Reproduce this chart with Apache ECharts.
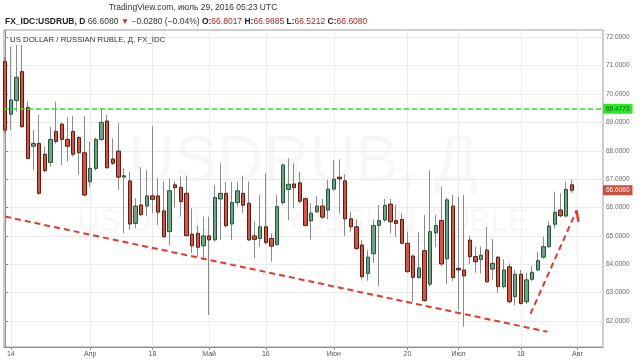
<!DOCTYPE html>
<html><head><meta charset="utf-8">
<script src="https://cdn.jsdelivr.net/npm/echarts@6/dist/echarts.min.js"></script>
<style>html,body{margin:0;padding:0;background:#fff}#c{width:640px;height:361px}</style>
</head><body><div id="c"></div>
<script>
// Daily USD/RUB candles, 2016-03-11 .. 2016-07-29 (index 0 = Mar 11)
const openP  = [71.14,69.29,69.77,70.79,69.53,68.16,68.26,67.88,67.59,68.68,68.94,68.40,68.68,68.47,67.93,66.91,67.38,68.40,69.05,67.71,
                67.99,67.07,66.94,65.44,66.09,66.05,66.41,66.41,65.88,65.15,66.80,66.71,66.50,65.06,65.09,64.65,65.00,64.86,66.30,66.50,
                65.42,66.17,66.50,66.15,65.00,64.91,65.32,64.91,64.70,66.17,66.64,66.83,66.87,66.31,65.53,65.85,66.05,65.91,66.65,67.07,
                66.94,65.60,65.32,64.68,63.68,64.37,65.37,65.56,66.12,65.54,65.58,64.74,64.29,63.53,64.48,63.30,65.11,65.54,64.19,66.05,
                63.86,63.80,64.85,64.27,64.17,64.50,63.83,64.25,63.21,63.91,62.86,63.65,62.68,63.47,63.80,64.25,64.62,65.41,65.91,65.70,
                66.8017];
const closeP = [68.73,69.79,70.59,68.85,67.73,68.26,66.50,67.30,68.40,68.33,68.40,68.16,67.88,67.93,66.44,67.38,68.40,69.00,67.40,67.56,
                67.07,67.12,65.42,66.05,65.75,66.41,66.29,65.84,64.97,66.59,66.70,66.21,65.01,64.65,64.60,65.00,64.86,66.35,66.50,65.36,
                66.18,66.59,66.08,64.86,64.88,65.32,64.77,64.64,66.03,67.50,66.82,66.70,66.22,65.37,65.80,66.05,65.66,66.65,67.00,67.01,
                65.60,65.32,64.56,63.56,64.25,65.36,65.54,66.08,65.50,65.44,64.74,63.74,63.54,63.87,62.72,65.15,65.37,64.01,66.27,63.53,
                63.80,63.59,64.27,64.09,64.32,63.38,64.03,63.21,63.80,62.68,63.65,62.62,63.45,63.72,64.13,64.62,65.35,65.83,65.71,66.636,
                66.6080];
const lowP   = [68.60,68.73,69.38,68.80,67.70,67.32,66.45,67.25,67.44,68.25,67.50,67.62,67.80,67.15,66.40,66.73,67.30,68.35,67.38,67.50,
                66.62,65.09,65.21,65.27,65.70,65.70,65.80,65.38,64.93,64.68,66.00,65.68,64.98,64.39,64.27,64.21,62.21,64.80,64.86,65.30,
                64.86,66.03,65.81,64.82,64.21,64.62,64.70,64.09,64.65,66.10,65.56,65.97,66.15,65.34,64.86,65.80,65.60,65.58,66.60,65.80,
                65.00,65.15,64.50,63.47,63.42,64.05,63.23,65.50,65.09,64.97,64.70,63.70,62.68,63.50,62.68,63.21,64.60,63.95,63.30,63.40,
                62.39,61.80,64.00,63.70,63.68,63.35,63.45,62.98,63.15,62.62,62.56,62.58,62.60,63.40,63.75,64.20,64.58,65.27,65.65,65.65,
                66.5212];
const highP  = [71.30,71.67,71.73,71.73,69.73,68.73,69.26,68.15,68.85,69.73,69.00,69.18,69.23,68.52,69.23,68.32,68.47,69.50,69.26,68.44,
                68.97,67.38,67.26,66.33,67.42,67.32,68.87,67.03,66.91,67.03,66.93,67.09,67.12,65.97,65.36,65.68,65.68,66.79,67.56,66.90,
                66.91,66.91,67.11,66.91,65.50,66.44,67.21,65.09,66.44,67.55,67.73,67.56,67.26,66.35,66.15,66.41,66.30,66.97,67.67,67.70,
                67.17,65.85,65.58,64.85,64.50,65.58,66.09,66.30,66.30,66.09,65.80,65.15,64.35,65.13,65.74,67.32,65.74,66.73,66.35,66.44,
                66.38,66.44,65.00,64.62,64.62,65.32,64.89,64.30,64.17,64.03,63.80,63.80,63.70,63.94,64.44,64.97,65.50,66.56,66.50,66.91,
                66.9885];

const tickIdx  = [1, 15, 26, 36, 46, 58, 71, 80, 91, 101];
const tickText = ['14', 'Апр', '18', 'Май', '16', 'Июн', '20', 'Июл', '18', 'Авг'];
const yTicks   = [62, 63, 64, 65, 66, 67, 68, 69, 70, 71, 72];

const levelPrice = 69.4773;
const lastPrice  = 66.6080;
const change = '−0.0280 (−0.04%)';
const trendA = [[0, 65.68], [95.7, 61.62]];
const trendB = [[92.7, 62.25], [100.85, 65.9]];
const trendBHook = [[100.85, 65.9], [101.15, 65.5]];

const FONT = '"Liberation Sans", Arial, sans-serif';
const candles = openP.map((o, i) => [i, o, closeP[i], lowP[i], highP[i]]);
const bodies  = openP.map((o, i) => [i, o, closeP[i], Math.min(o, closeP[i]), Math.max(o, closeP[i])]);

const chart = echarts.init(document.getElementById('c'), null, {renderer: 'canvas'});
const dashStyle = {color: '#e5382e', width: 2, type: [6, 4]};
chart.setOption({
  animation: false,
  backgroundColor: '#ffffff',
  grid: {left: 4, right: 37, top: 30, bottom: 14, show: true, borderColor: '#9c9c9c', borderWidth: 1},
  xAxis: {
    type: 'value', min: -0.2, max: 105.5,
    axisLine: {show: true, onZero: false, lineStyle: {color: '#8c8c8c'}},
    axisTick: {show: true, customValues: tickIdx, length: 3, lineStyle: {color: '#8c8c8c'}},
    axisLabel: {customValues: tickIdx, formatter: v => tickText[tickIdx.indexOf(v)], color: '#555', fontSize: 7, margin: 4, fontFamily: FONT},
    splitLine: {show: true, lineStyle: {color: '#ebebeb'}}
  },
  yAxis: {
    type: 'value', position: 'right', min: 61.084, max: 72.257,
    axisLine: {show: true, lineStyle: {color: '#8c8c8c'}},
    axisTick: {show: true, customValues: yTicks, length: 3, lineStyle: {color: '#8c8c8c'}},
    axisLabel: {customValues: yTicks, formatter: v => v.toFixed(4), color: '#666', fontSize: 6.5, margin: 3, fontFamily: FONT},
    splitLine: {show: true, lineStyle: {color: '#ebebeb'}}
  },
  graphic: [
    {type: 'text', z: 0, x: 303, y: 163, silent: true,
     style: {text: 'USDRUB, Д', font: '64px ' + FONT, fill: 'rgba(0,0,0,0.03)', align: 'center', verticalAlign: 'middle'}},
    {type: 'text', z: 0, x: 303, y: 222, silent: true,
     style: {text: 'US DOLLAR / RUSSIAN RUBLE', font: '31px ' + FONT, fill: 'rgba(0,0,0,0.03)', align: 'center', verticalAlign: 'middle'}},
    {type: 'text', x: 193, y: 8, silent: true,
     style: {text: 'TradingView.com, июль 29, 2016 05:23 UTC', font: '8.5px ' + FONT, fill: '#333', align: 'center', verticalAlign: 'middle'}},
    {type: 'text', x: 5, y: 22, silent: true,
     style: {
       text: '{b|FX_IDC:USDRUB, D} {n|' + lastPrice.toFixed(4) + '} {r|▼} {n|' + change + '} ' +
             '{b|O:}{v|' + openP[100].toFixed(4) + '} {b|H:}{v|' + highP[100].toFixed(4) + '} ' +
             '{b|L:}{v|' + lowP[100].toFixed(4) + '} {b|C:}{v|' + closeP[100].toFixed(4) + '}',
       font: '8.5px ' + FONT, fill: '#222', verticalAlign: 'middle',
       rich: {
         b: {fontWeight: 'bold', fontSize: 8.5, fill: '#222', fontFamily: FONT},
         n: {fontSize: 8.5, fill: '#333', fontFamily: FONT},
         r: {fontSize: 8.5, fill: '#c0392b', fontFamily: FONT},
         v: {fontSize: 8.5, fill: '#a52a2a', fontFamily: FONT}
       }
     }},
    {type: 'text', x: 10, y: 40, z: 20, silent: true,
     style: {text: 'US DOLLAR / RUSSIAN RUBLE, Д, FX_IDC', font: '7.8px ' + FONT, fill: '#333', verticalAlign: 'middle'}}
  ],
  series: [
    {type: 'candlestick', name: 'wick', data: candles, barWidth: 0.1, silent: true,
     itemStyle: {color: '#8a8a8c', color0: '#8a8a8c', borderColor: '#8a8a8c', borderColor0: '#8a8a8c', borderWidth: 1}},
    {type: 'candlestick', name: 'USDRUB', data: bodies, barWidth: 4, silent: true,
     itemStyle: {color: '#6ba583', color0: '#d75442', borderColor: '#225437', borderColor0: '#5b1a13', borderWidth: 1},
     markLine: {
       symbol: 'none', silent: true, animation: false,
       data: [
         {yAxis: levelPrice, lineStyle: {color: '#33dd33', width: 1.5, type: [5, 3]},
          label: {show: true, position: 'end', distance: 0, formatter: levelPrice.toFixed(4), backgroundColor: '#22ee22',
                  color: '#114411', fontSize: 6.5, fontFamily: FONT, padding: [2, 3, 1, 3]}},
         {yAxis: lastPrice, lineStyle: {color: 'rgba(0,0,0,0)', width: 0},
          label: {show: true, position: 'end', distance: 0, formatter: lastPrice.toFixed(4), backgroundColor: '#cc4e3c',
                  color: '#fff', fontSize: 6.5, fontFamily: FONT, padding: [2, 3, 1, 3]}}
       ]
     }},
    {type: 'line', data: trendA, symbol: 'none', silent: true, lineStyle: dashStyle, z: 5},
    {type: 'line', data: trendB, symbol: 'none', silent: true, lineStyle: dashStyle, z: 5},
    {type: 'line', data: trendBHook, symbol: 'none', silent: true, lineStyle: {color: '#e5382e', width: 2.5}, z: 5}
  ]
});
</script></body></html>
